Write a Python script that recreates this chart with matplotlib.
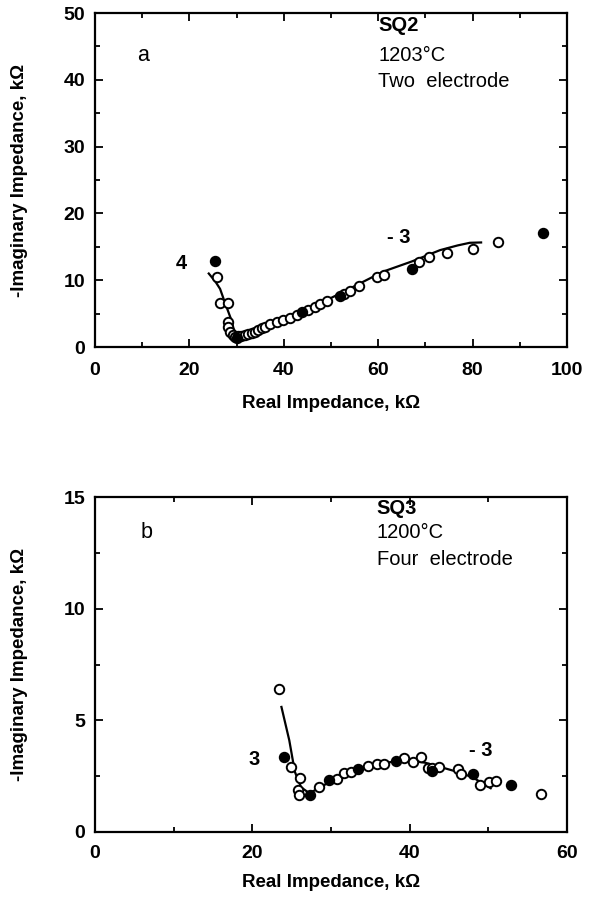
import matplotlib
matplotlib.use("Agg")
import matplotlib.pyplot as plt
from matplotlib.ticker import MultipleLocator

plt.rcParams['font.family'] = ['Liberation Sans', 'DejaVu Sans']

# ---- Panel a data (SQ2, 1203 C, two electrode) ----
a_open_x = [25.8, 26.5, 28.2, 28.2, 28.2, 28.6, 29.2, 29.6, 30.4, 31.0, 31.8, 32.5,
            33.2, 33.8, 34.6, 35.3, 36.0, 37.1, 38.5, 39.9, 41.3, 42.7, 45.2, 46.6,
            47.7, 49.1, 52.8, 54.1, 55.9, 59.8, 61.2, 68.6, 70.8, 74.5, 80.0, 85.4]
a_open_y = [10.5, 6.6, 6.6, 3.8, 3.0, 2.3, 1.8, 1.5, 1.6, 1.7, 1.8, 2.0,
            2.1, 2.3, 2.5, 2.8, 3.0, 3.5, 3.8, 4.1, 4.4, 4.8, 5.6, 6.0,
            6.4, 6.9, 8.0, 8.4, 9.2, 10.5, 10.8, 12.7, 13.4, 14.1, 14.7, 15.7]
a_fill_x = [25.5, 30.0, 43.9, 51.9, 67.2, 95.0]
a_fill_y = [12.8, 1.3, 5.3, 7.7, 11.7, 17.1]
a_line_x = [24.1, 25.5, 26.5, 27.6, 28.7, 29.4, 30.1, 31.0, 33.0, 36.4, 40.0, 47.0,
            51.9, 61.1, 67.1, 73.1, 76.8, 79.4, 81.8]
a_line_y = [11.0, 9.8, 8.7, 6.5, 4.4, 2.6, 1.2, 1.5, 2.1, 3.2, 4.3, 6.3,
            8.0, 11.3, 12.8, 14.5, 15.2, 15.6, 15.65]

# ---- Panel b data (SQ3, 1200 C, four electrode) ----
b_open_x = [23.4, 24.96, 26.1, 25.8, 25.9, 28.5, 30.7, 31.7, 32.5, 34.7, 35.8, 36.8,
            39.3, 40.4, 41.5, 42.3, 42.9, 43.7, 46.1, 46.5, 49.0, 50.1, 51.0, 56.7]
b_open_y = [6.4, 2.93, 2.4, 1.88, 1.65, 2.03, 2.36, 2.63, 2.7, 2.96, 3.05, 3.05,
            3.3, 3.15, 3.35, 2.85, 2.85, 2.93, 2.82, 2.58, 2.1, 2.25, 2.28, 1.72]
b_fill_x = [24.0, 27.3, 29.7, 33.4, 38.3, 42.9, 48.0, 52.9]
b_fill_y = [3.38, 1.66, 2.33, 2.81, 3.19, 2.73, 2.58, 2.1]
b_line_x = [23.7, 24.7, 25.4, 26.2, 27.2, 28.5, 30.0, 32.0, 34.0, 36.0, 38.0, 40.0,
            42.0, 44.0, 46.0, 48.0, 50.3]
b_line_y = [5.6, 4.1, 2.7, 2.0, 1.75, 1.95, 2.3, 2.65, 2.9, 3.05, 3.15, 3.2,
            3.1, 2.9, 2.7, 2.45, 1.96]

fig = plt.figure(figsize=(5.94, 9.0), dpi=100)
W, H = 594.0, 900.0
ax1 = fig.add_axes([95 / W, (H - 347) / H, 472 / W, 334 / H])
ax2 = fig.add_axes([95 / W, (H - 832) / H, 472 / W, 335 / H])

ms_open = 6.8
ms_fill = 7.2
tick_fs = 14
lab_fs = 13.5
ann_fs = 14.5


def style(ax, xmax, ymax, xmaj, xmin, ymaj, ymin, xlab_y, xpad):
    ax.set_xlim(0, xmax)
    ax.set_ylim(0, ymax)
    ax.xaxis.set_major_locator(MultipleLocator(xmaj))
    ax.xaxis.set_minor_locator(MultipleLocator(xmin))
    ax.yaxis.set_major_locator(MultipleLocator(ymaj))
    ax.yaxis.set_minor_locator(MultipleLocator(ymin))
    ax.tick_params(which='both', direction='in', top=True, right=True, width=1.3)
    ax.tick_params(which='major', length=6, labelsize=tick_fs)
    ax.tick_params(axis='x', which='major', pad=xpad)
    ax.tick_params(axis='y', which='major', pad=7)
    ax.tick_params(which='minor', length=3.5)
    for lab in ax.get_xticklabels() + ax.get_yticklabels():
        lab.set_fontweight('bold')
    for s in ax.spines.values():
        s.set_linewidth(1.6)
    ax.set_xlabel('Real Impedance, k\u03a9', fontsize=lab_fs, fontweight='bold')
    ax.set_ylabel('-Imaginary Impedance, k\u03a9', fontsize=lab_fs, fontweight='bold')
    ax.xaxis.set_label_coords(0.5, xlab_y)
    ax.yaxis.set_label_coords(-0.142, 0.5)


for ax, lx, ly, ox, oy, fx, fy in [
        (ax1, a_line_x, a_line_y, a_open_x, a_open_y, a_fill_x, a_fill_y),
        (ax2, b_line_x, b_line_y, b_open_x, b_open_y, b_fill_x, b_fill_y)]:
    ax.plot(lx, ly, color='black', lw=1.6, zorder=2)
    ax.plot(ox, oy, linestyle='none', marker='o', ms=ms_open, mfc='white',
            mec='black', mew=1.4, zorder=3)
    ax.plot(fx, fy, linestyle='none', marker='o', ms=ms_fill, mfc='black',
            mec='black', zorder=4)

style(ax1, 100, 50, 20, 10, 10, 5, -0.145, 11)
style(ax2, 60, 15, 20, 10, 5, 2.5, -0.125, 9)

# annotations panel a
ax1.text(9.0, 43.7, 'a', fontsize=ann_fs + 1, va='center', ha='left')
ax1.text(60, 48.2, 'SQ2', fontsize=ann_fs, fontweight='bold', va='center', ha='left')
ax1.text(60, 43.7, '1203\u00b0C', fontsize=ann_fs, va='center', ha='left')
ax1.text(60, 39.7, 'Two  electrode', fontsize=ann_fs, va='center', ha='left')
ax1.text(18.3, 12.5, '4', fontsize=ann_fs, fontweight='bold', va='center', ha='center')
ax1.text(64.3, 16.4, '- 3', fontsize=ann_fs, fontweight='bold', va='center', ha='center')

# annotations panel b
ax2.text(5.8, 13.4, 'b', fontsize=ann_fs + 1, va='center', ha='left')
ax2.text(35.8, 14.5, 'SQ3', fontsize=ann_fs, fontweight='bold', va='center', ha='left')
ax2.text(35.8, 13.4, '1200\u00b0C', fontsize=ann_fs, va='center', ha='left')
ax2.text(35.8, 12.2, 'Four  electrode', fontsize=ann_fs, va='center', ha='left')
ax2.text(20.2, 3.25, '3', fontsize=ann_fs, fontweight='bold', va='center', ha='center')
ax2.text(49.0, 3.65, '- 3', fontsize=ann_fs, fontweight='bold', va='center', ha='center')

fig.savefig('out.png', dpi=100)
